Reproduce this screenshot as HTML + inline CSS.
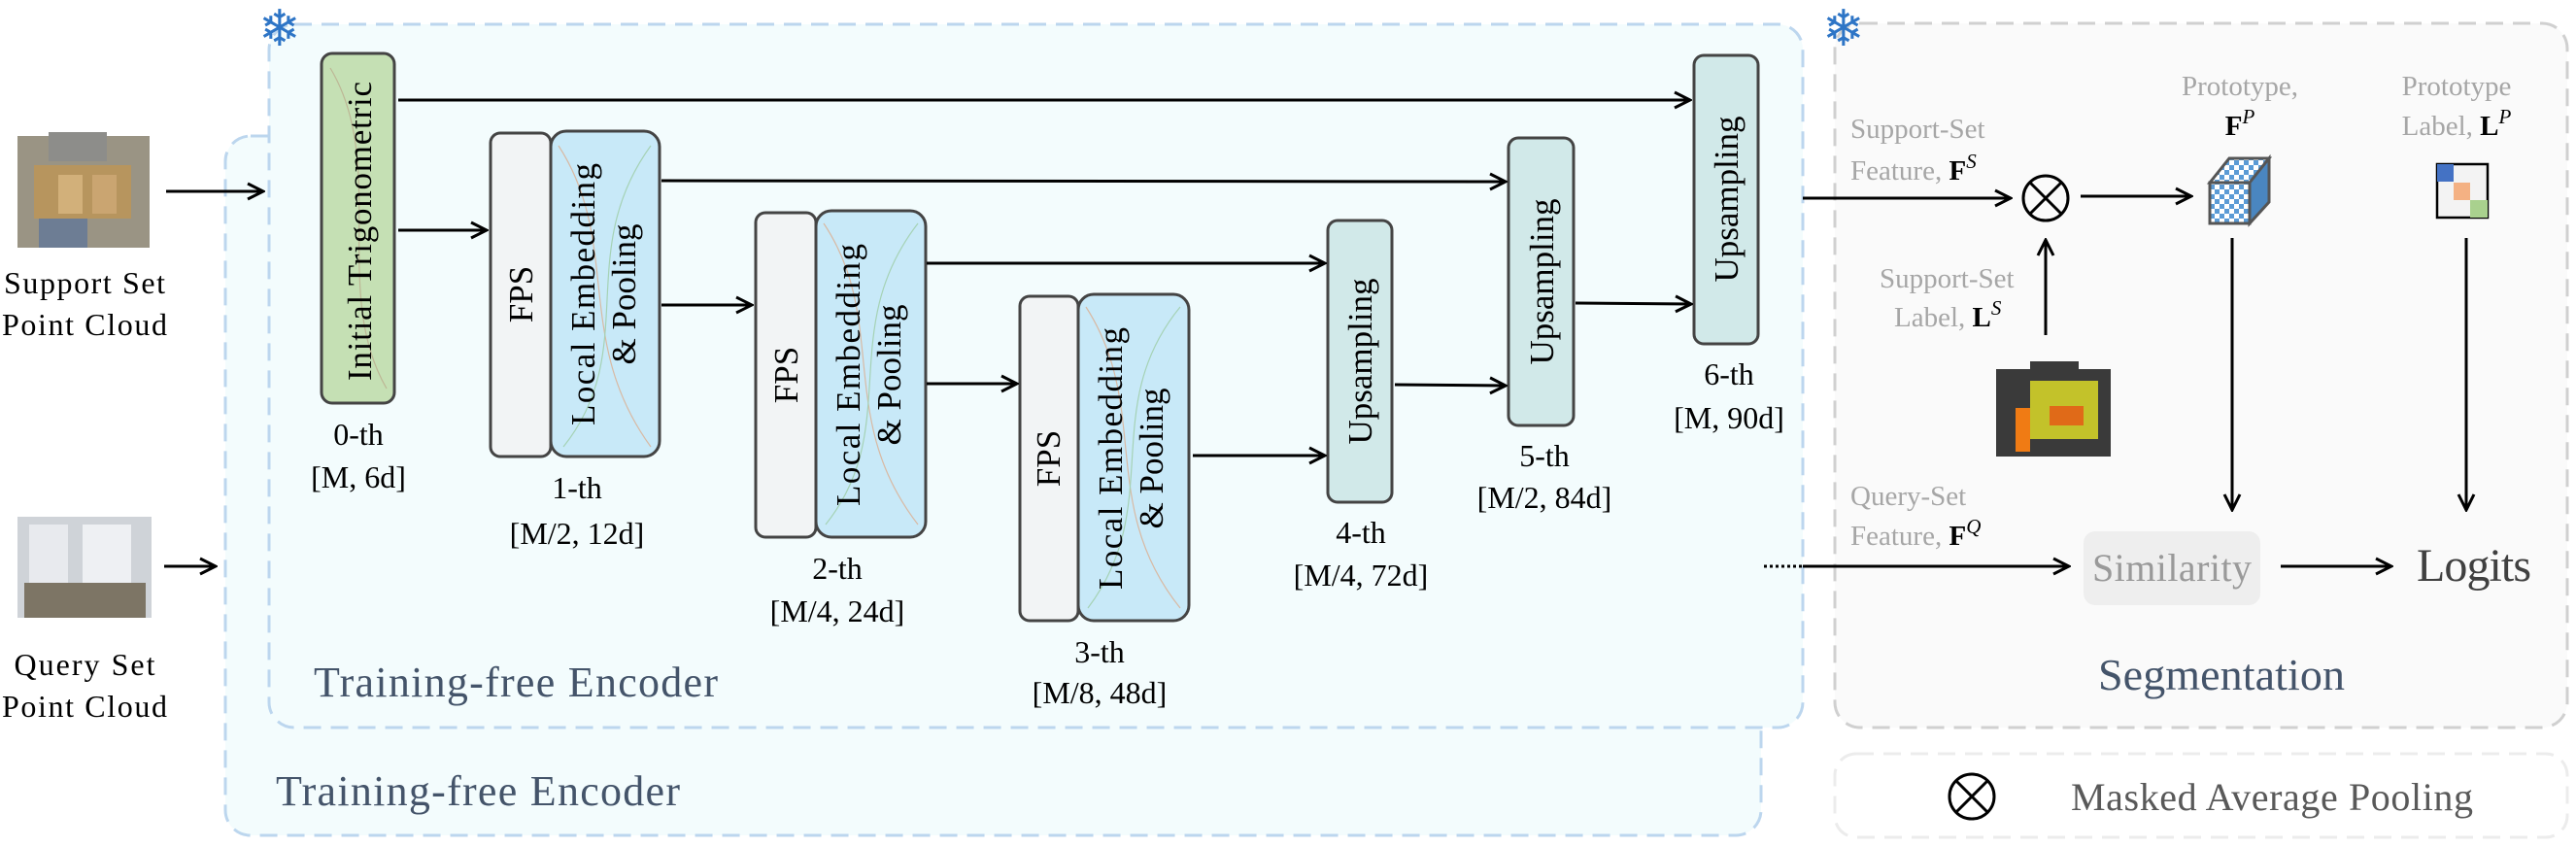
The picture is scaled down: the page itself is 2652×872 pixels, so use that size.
<!DOCTYPE html>
<html><head><meta charset="utf-8"><style>
html,body{margin:0;padding:0;background:#fff;}
svg{display:block;font-family:"Liberation Serif",serif;}
</style></head><body>
<svg width="2652" height="872" viewBox="0 0 2652 872" xmlns="http://www.w3.org/2000/svg">
<defs>
<marker id="ah" viewBox="0 0 20 20" refX="18" refY="10" markerWidth="20" markerHeight="20" markerUnits="userSpaceOnUse" orient="auto">
<path d="M2,2 L18,10 L2,18" fill="none" stroke="#000" stroke-width="3"/>
</marker>
<pattern id="chk" width="10" height="10" patternUnits="userSpaceOnUse">
<rect width="10" height="10" fill="#5b9bd5"/><rect width="5" height="5" fill="#fff"/><rect x="5" y="5" width="5" height="5" fill="#fff"/>
</pattern>
</defs>
<rect x="232" y="140" width="1581" height="720" rx="26" fill="#f3fcfd" stroke="#bcd6ee" stroke-width="3" stroke-dasharray="18 10"/>
<rect x="277" y="25" width="1579" height="724" rx="26" fill="#f3fcfd" stroke="#bcd6ee" stroke-width="3" stroke-dasharray="18 10"/>
<rect x="1889" y="24" width="754" height="725" rx="26" fill="#fafafa" stroke="#d0d0d0" stroke-width="3" stroke-dasharray="18 10"/>
<rect x="1889" y="776" width="754" height="86" rx="22" fill="#fff" stroke="#ececec" stroke-width="3" stroke-dasharray="18 10"/>
<text x="288" y="47" font-size="52" fill="#2e75c6" text-anchor="middle" font-family="DejaVu Sans">❄</text>
<text x="1898" y="47" font-size="52" fill="#2e75c6" text-anchor="middle" font-family="DejaVu Sans">❄</text>
<g>
<rect x="18" y="140" width="136" height="115" fill="#9a9484"/>
<rect x="50" y="136" width="60" height="30" fill="#8d8d8a"/>
<rect x="35" y="170" width="100" height="55" fill="#b7955e"/>
<rect x="60" y="180" width="25" height="40" fill="#d2b07a"/>
<rect x="95" y="180" width="25" height="40" fill="#caa571"/>
<rect x="40" y="225" width="50" height="30" fill="#6d7d94"/>
</g>
<g>
<rect x="18" y="532" width="138" height="104" fill="#cfd3d8"/>
<rect x="30" y="540" width="40" height="60" fill="#e8eaee"/>
<rect x="85" y="540" width="50" height="60" fill="#eef0f3"/>
<rect x="25" y="600" width="125" height="36" fill="#7d7565"/>
</g>
<g font-size="32" text-anchor="middle" fill="#000">
<text x="87" y="302" textLength="166">Support Set</text><text x="87" y="345" textLength="170">Point Cloud</text>
<text x="87" y="695" textLength="145">Query Set</text><text x="87" y="738" textLength="170">Point Cloud</text>
</g>
<line x1="171" y1="197" x2="271" y2="197" stroke="#000" stroke-width="3" marker-end="url(#ah)"/>
<line x1="169" y1="583" x2="222" y2="583" stroke="#000" stroke-width="3" marker-end="url(#ah)"/>
<g stroke="#444" stroke-width="3">
<rect x="331" y="55" width="75" height="360" rx="11" fill="#c5e0b4"/>
<rect x="505" y="137" width="62" height="333" rx="10" fill="#f2f4f5"/>
<rect x="567" y="135" width="112" height="335" rx="16" fill="#c8e9f8"/>
<rect x="778" y="219" width="62" height="334" rx="10" fill="#f2f4f5"/>
<rect x="840" y="217" width="113" height="336" rx="16" fill="#c8e9f8"/>
<rect x="1050" y="305" width="60" height="334" rx="10" fill="#f2f4f5"/>
<rect x="1110" y="303" width="114" height="336" rx="16" fill="#c8e9f8"/>
<rect x="1367" y="227" width="66" height="290" rx="10" fill="#d1e9e9"/>
<rect x="1553" y="142" width="67" height="296" rx="10" fill="#d1e9e9"/>
<rect x="1744" y="57" width="66" height="297" rx="10" fill="#d1e9e9"/>
</g>
<g fill="none" stroke-width="1.2" opacity="0.6">
<path d="M575,150 C640,250 590,350 670,460" stroke="#e39a6c"/>
<path d="M670,150 C590,260 660,360 580,460" stroke="#8fc48a"/>
<path d="M848,230 C915,330 860,430 945,540" stroke="#e39a6c"/>
<path d="M945,230 C860,340 930,440 850,540" stroke="#8fc48a"/>
<path d="M1118,316 C1185,420 1130,520 1215,626" stroke="#e39a6c"/>
<path d="M1215,316 C1130,420 1200,520 1120,626" stroke="#8fc48a"/>
<path d="M340,70 C400,170 340,300 398,400" stroke="#b89a80"/>
</g>
<g font-size="35" fill="#000" text-anchor="middle">
<text transform="translate(382,238) rotate(-90)" textLength="308">Initial Trigonometric</text>
<text transform="translate(548,303) rotate(-90)">FPS</text>
<text transform="translate(612,303) rotate(-90)" textLength="270">Local Embedding</text>
<text transform="translate(654,303) rotate(-90)">&amp; Pooling</text>
<text transform="translate(821,386) rotate(-90)">FPS</text>
<text transform="translate(885,386) rotate(-90)" textLength="270">Local Embedding</text>
<text transform="translate(927,386) rotate(-90)">&amp; Pooling</text>
<text transform="translate(1091,472) rotate(-90)">FPS</text>
<text transform="translate(1155,472) rotate(-90)" textLength="270">Local Embedding</text>
<text transform="translate(1197,472) rotate(-90)">&amp; Pooling</text>
<text transform="translate(1412,372) rotate(-90)">Upsampling</text>
<text transform="translate(1599,290) rotate(-90)">Upsampling</text>
<text transform="translate(1789,205) rotate(-90)">Upsampling</text>
</g>
<g font-size="32" text-anchor="middle" fill="#000">
<text x="369" y="458">0-th</text><text x="369" y="502">[M, 6d]</text>
<text x="594" y="513">1-th</text><text x="594" y="560">[M/2, 12d]</text>
<text x="862" y="596">2-th</text><text x="862" y="640">[M/4, 24d]</text>
<text x="1132" y="682">3-th</text><text x="1132" y="724">[M/8, 48d]</text>
<text x="1401" y="559">4-th</text><text x="1401" y="603">[M/4, 72d]</text>
<text x="1590" y="480">5-th</text><text x="1590" y="523">[M/2, 84d]</text>
<text x="1780" y="396">6-th</text><text x="1780" y="441">[M, 90d]</text>
</g>
<g stroke="#000" stroke-width="3" fill="none">
<line x1="410" y1="103" x2="1740" y2="103" marker-end="url(#ah)"/>
<line x1="681" y1="186" x2="1550" y2="187" marker-end="url(#ah)"/>
<line x1="954" y1="271" x2="1364" y2="271" marker-end="url(#ah)"/>
<line x1="1228" y1="469" x2="1364" y2="469" marker-end="url(#ah)"/>
<line x1="410" y1="237" x2="501" y2="237" marker-end="url(#ah)"/>
<line x1="681" y1="314" x2="774" y2="314" marker-end="url(#ah)"/>
<line x1="954" y1="395" x2="1047" y2="395" marker-end="url(#ah)"/>
<line x1="1436" y1="396" x2="1550" y2="397" marker-end="url(#ah)"/>
<line x1="1622" y1="312" x2="1741" y2="313" marker-end="url(#ah)"/>
<line x1="1856" y1="204" x2="2070" y2="204" marker-end="url(#ah)"/>
<line x1="2142" y1="202" x2="2256" y2="202" marker-end="url(#ah)"/>
<line x1="2106" y1="345" x2="2106" y2="247" marker-end="url(#ah)"/>
<line x1="2298" y1="245" x2="2298" y2="525" marker-end="url(#ah)"/>
<line x1="2539" y1="245" x2="2539" y2="525" marker-end="url(#ah)"/>
<line x1="1816" y1="583" x2="1856" y2="583" stroke-dasharray="3 3"/>
<line x1="1856" y1="583" x2="2130" y2="583" marker-end="url(#ah)"/>
<line x1="2348" y1="583" x2="2462" y2="583" marker-end="url(#ah)"/>
<circle cx="2106" cy="204" r="23"/>
<path d="M2090,188 L2122,220 M2122,188 L2090,220"/>
<circle cx="2030" cy="820" r="23"/>
<path d="M2014,804 L2046,836 M2046,804 L2014,836"/>
</g>
<g stroke="#555" stroke-width="3">
<polygon points="2275,188 2295,163 2336,163 2316,188" fill="url(#chk)"/>
<polygon points="2316,188 2336,163 2336,208 2316,230" fill="#4a86c0"/>
<rect x="2275" y="188" width="41" height="42" fill="url(#chk)"/>
</g>
<rect x="2509" y="169" width="52" height="55" fill="#f3f3f3" stroke="#000" stroke-width="2.5"/>
<rect x="2509" y="169" width="17" height="18" fill="#4472c4"/>
<rect x="2526" y="188" width="17" height="18" fill="#f4b183"/>
<rect x="2543" y="206" width="18" height="18" fill="#a9d18e"/>
<g>
<rect x="2055" y="380" width="118" height="90" fill="#3a3a3a"/>
<rect x="2090" y="372" width="50" height="20" fill="#3a3a3a"/>
<rect x="2090" y="392" width="70" height="60" fill="#c3c22a"/>
<rect x="2075" y="420" width="15" height="45" fill="#f07b14"/>
<rect x="2110" y="418" width="35" height="20" fill="#e06a18"/>
</g>
<g font-size="29" fill="#a6a6a6">
<text x="1905" y="142">Support-Set</text>
<text x="1905" y="185">Feature, <tspan fill="#000" font-weight="bold">F</tspan><tspan fill="#000" font-style="italic" font-size="21" dy="-12">S</tspan></text>
<text x="1935" y="296">Support-Set</text>
<text x="1950" y="336">Label, <tspan fill="#000" font-weight="bold">L</tspan><tspan fill="#000" font-style="italic" font-size="21" dy="-12">S</tspan></text>
<text x="1905" y="520">Query-Set</text>
<text x="1905" y="561">Feature, <tspan fill="#000" font-weight="bold">F</tspan><tspan fill="#000" font-style="italic" font-size="21" dy="-12">Q</tspan></text>
<text x="2306" y="98" text-anchor="middle">Prototype,</text>
<text x="2529" y="98" text-anchor="middle">Prototype</text>
<text x="2529" y="139" text-anchor="middle">Label, <tspan fill="#000" font-weight="bold">L</tspan><tspan fill="#000" font-style="italic" font-size="21" dy="-12">P</tspan></text>
</g>
<text x="2306" y="139" font-size="29" text-anchor="middle"><tspan font-weight="bold">F</tspan><tspan font-style="italic" font-size="21" dy="-12">P</tspan></text>
<rect x="2145" y="547" width="182" height="76" rx="12" fill="#eeeeee"/>
<text x="2236" y="598" font-size="40" fill="#999" text-anchor="middle" textLength="164">Similarity</text>
<text x="2488" y="598" font-size="48" fill="#404040" textLength="118">Logits</text>
<text x="2287" y="710" font-size="46" fill="#44546a" text-anchor="middle" textLength="254">Segmentation</text>
<text x="2132" y="834" font-size="40" fill="#595959" textLength="414">Masked Average Pooling</text>
<text x="323" y="717" font-size="44" fill="#44546a" textLength="416">Training-free Encoder</text>
<text x="284" y="829" font-size="44" fill="#44546a" textLength="416">Training-free Encoder</text>
</svg>
</body></html>
